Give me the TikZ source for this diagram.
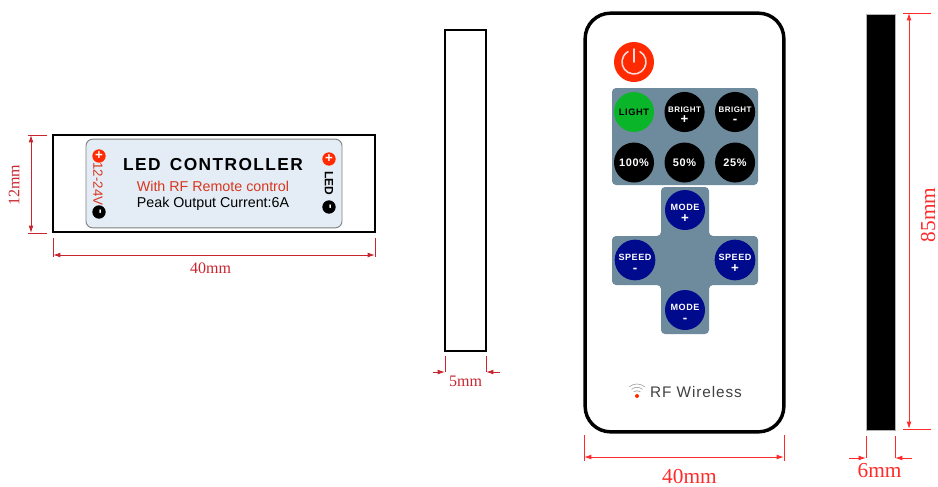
\documentclass[tikz,border=0pt]{standalone}
\usepackage{fontspec}
\setmainfont{Liberation Sans}
\newfontfamily\dimfont{Liberation Serif}
\newfontfamily\keyfont[LetterSpace=6]{Liberation Sans}
\usetikzlibrary{arrows.meta,calc,positioning}
\definecolor{dimdark}{HTML}{C9252F}
\definecolor{dimred}{HTML}{FF2A2A}
\definecolor{padblue}{HTML}{6E8B9E}
\definecolor{labelblue}{HTML}{E4EDF6}
\definecolor{modeblue}{HTML}{000A8C}
\definecolor{lightgreen}{HTML}{0AB52A}
\definecolor{powerred}{HTML}{FF2A00}
\definecolor{printred}{HTML}{D9361E}
\tikzset{dimtip/.tip={Latex[length=5.5pt,width=3.6pt]}}
\newcommand{\keytext}[2]{\rule{0pt}{9pt}#1\\[1.5pt]{\fontsize{10}{7}\selectfont #2}}

\begin{document}
\begin{tikzpicture}[x=0.75pt,y=-0.75pt,align=center,node distance=37.9pt]
\tikzstyle{housing}=[draw=black,line width=1.5pt,inner sep=0pt]
\tikzstyle{key}=[circle,fill=black,text=white,minimum size=30pt,inner sep=0pt,font=\keyfont\bfseries\fontsize{6}{6.5}\selectfont]
\tikzstyle{modekey}=[key,fill=modeblue,font=\keyfont\bfseries\fontsize{6.8}{7.5}\selectfont]
\tikzstyle{terminal}=[circle,text=white,minimum size=10pt,inner sep=0pt,font=\bfseries\fontsize{10}{10}\selectfont]
\tikzstyle{dim}=[-,dimdark,line width=0.7pt]
\tikzstyle{dimr}=[-,dimred,line width=0.7pt]
\tikzstyle{dimtext}=[dimdark,inner sep=0pt,font=\dimfont\fontsize{12}{14}\selectfont]
\tikzstyle{dimtextr}=[dimred,inner sep=0pt,font=\dimfont\fontsize{16}{18}\selectfont]

\useasboundingbox (0,0) rectangle (938,486);

% controller, front
\node[housing,minimum width=241.5pt,minimum height=72.5pt] (front) at (214,183.5) {};
\node[draw=gray,fill=labelblue,rounded corners=5pt,line width=0.7pt,minimum width=192pt,minimum height=66.5pt,inner sep=0pt] (label) at (214,183.5) {};
\node (title) at (213,165) {\addfontfeature{LetterSpace=8}\bfseries\fontsize{13}{15}\selectfont LED\hspace{7pt}CONTROLLER};
\node[text=printred,font=\fontsize{10.7}{12}\selectfont] (rfline) at (213,186) {With RF Remote control};
\node[font=\fontsize{10.7}{12}\selectfont] (peak) at (213,204) {Peak Output Current:6A};
\node[terminal,fill=powerred] (vplus) at (99,156) {+};
\node[rotate=-90,text=printred,font=\fontsize{10}{12}\selectfont] (volt) at (98,184) {12-24V};
\node[terminal,fill=black,rotate=-90] (vminus) at (99,212) {-};
\node[terminal,fill=powerred] (lplus) at (329,159) {+};
\node[rotate=-90,font=\bfseries\fontsize{9}{11}\selectfont] (led) at (329,183) {LED};
\node[terminal,fill=black,rotate=-90] (lminus) at (329,207) {-};

% controller, side
\node[housing,minimum width=30.75pt,minimum height=240.75pt] (side) at (465.5,190.5) {};

% remote
\node[draw=black,line width=2.6pt,rounded corners=19pt,minimum width=149pt,minimum height=314pt,inner sep=0pt] (remote) at (684.5,222.5) {};
\node[circle,fill=powerred,minimum size=30pt,inner sep=0pt] (power) at (634,62) {};
\draw[white!85!red,line width=1.2pt,line cap=round] ([shift={(60:9pt)}]power.center) arc [start angle=60, end angle=-240, radius=9pt];
\draw[white!85!red,line width=1.2pt,line cap=round] (power.center) -- ++(0,-13);
\node[fill=padblue,rounded corners=3pt,minimum width=109.5pt,minimum height=72.75pt,inner sep=0pt] (toppad) at (685,136.5) {};
\fill[padblue,rounded corners=3pt] (661,187) -- (709,187) -- (709,236) -- (758,236) -- (758,285) -- (709,285) -- (709,334) -- (661,334) -- (661,285) -- (612,285) -- (612,236) -- (661,236) -- cycle;

\node[key,fill=lightgreen,text=black,font=\keyfont\bfseries\fontsize{7}{8}\selectfont] (light) at (634,112) {LIGHT};
\node[key] (brightp) [right of = light] {\keytext{BRIGHT}{+}};
\node[key] (brightm) [right of = brightp] {\keytext{BRIGHT}{-}};
\node[key] (pfull) [below of = light] {\fontsize{8.2}{9}\selectfont 100\%};
\node[key] (phalf) [right of = pfull] {\fontsize{8.2}{9}\selectfont 50\%};
\node[key] (pquarter) [right of = phalf] {\fontsize{8.2}{9}\selectfont 25\%};

\node[modekey] (modep) at (685,210) {\keytext{MODE}{+}};
\node[modekey] (speedm) at (635,260) {\keytext{SPEED}{-}};
\node[modekey] (speedp) at (735,260) {\keytext{SPEED}{+}};
\node[modekey] (modem) at (685,310) {\keytext{MODE}{-}};

\node[circle,fill=powerred,minimum size=3pt,inner sep=0pt] (wifi) at (637,396) {};
\draw[gray!70,line width=0.5pt] ([shift={(50:4pt)}]wifi.center) arc [start angle=50, end angle=130, radius=4pt];
\draw[gray!70,line width=0.5pt] ([shift={(50:6.5pt)}]wifi.center) arc [start angle=50, end angle=130, radius=6.5pt];
\draw[gray!70,line width=0.5pt] ([shift={(50:9pt)}]wifi.center) arc [start angle=50, end angle=130, radius=9pt];
\node[text=black!75,font=\keyfont\fontsize{11.5}{13}\selectfont] (rf) at (696,392) {RF Wireless};

% remote, side
\node[draw=gray!60,fill=black,line width=0.3pt,minimum width=21.75pt,minimum height=312pt,inner sep=0pt] (edge) at (880.5,222) {};

% dimensions
\coordinate (a1) at (28,135); \coordinate (a2) at (47,135);
\coordinate (a3) at (28,233); \coordinate (a4) at (47,233);
\coordinate (a5) at (31,135); \coordinate (a6) at (31,233);
\path (a1) edge [dim] (a2) (a3) edge [dim] (a4) (a5) edge [dim,dimtip-dimtip] (a6);
\node[dimtext,rotate=90] (h12) at (14,185) {12mm};

\coordinate (b1) at (53,238); \coordinate (b2) at (53,257);
\coordinate (b3) at (375,238); \coordinate (b4) at (375,257);
\coordinate (b5) at (53,255); \coordinate (b6) at (375,255);
\path (b1) edge [dim] (b2) (b3) edge [dim] (b4) (b5) edge [dim,dimtip-dimtip] (b6);
\node[dimtext] (w40) at (210.5,268) {40mm};

\coordinate (c1) at (445,356); \coordinate (c2) at (445,372); \coordinate (c3) at (433,372);
\coordinate (c4) at (486,356); \coordinate (c5) at (486,372); \coordinate (c6) at (500,372);
\draw[dim] (c1) -- (c2);
\draw[dim] (c4) -- (c5);
\draw[dim,-dimtip] (c3) -- (c2);
\draw[dim,-dimtip] (c6) -- (c5);
\node[dimtext] (d5) at (465.5,381) {5mm};

\coordinate (e1) at (584,435); \coordinate (e2) at (584,461);
\coordinate (e3) at (784,435); \coordinate (e4) at (784,461);
\coordinate (e5) at (584,457); \coordinate (e6) at (784,457);
\path (e1) edge [dimr] (e2) (e3) edge [dimr] (e4) (e5) edge [dimr,dimtip-dimtip] (e6);
\node[dimtextr] (w40r) at (689.5,476) {40mm};

\coordinate (f1) at (866,436); \coordinate (f2) at (866,458); \coordinate (f3) at (849,458);
\coordinate (f4) at (895,436); \coordinate (f5) at (895,458); \coordinate (f6) at (912,458);
\draw[dimr] (f1) -- (f2);
\draw[dimr] (f4) -- (f5);
\draw[dimr,-dimtip] (f3) -- (f2);
\draw[dimr,-dimtip] (f6) -- (f5);
\node[dimtextr] (d6) at (879.5,471) {6mm};

\coordinate (g1) at (903,13); \coordinate (g2) at (931,13);
\coordinate (g3) at (903,429); \coordinate (g4) at (931,429);
\coordinate (g5) at (909,13); \coordinate (g6) at (909,429);
\path (g1) edge [dimr] (g2) (g3) edge [dimr] (g4) (g5) edge [dimr,dimtip-dimtip] (g6);
\node[dimtextr,rotate=90] (h85) at (928,215) {85mm};
\end{tikzpicture}
\end{document}
